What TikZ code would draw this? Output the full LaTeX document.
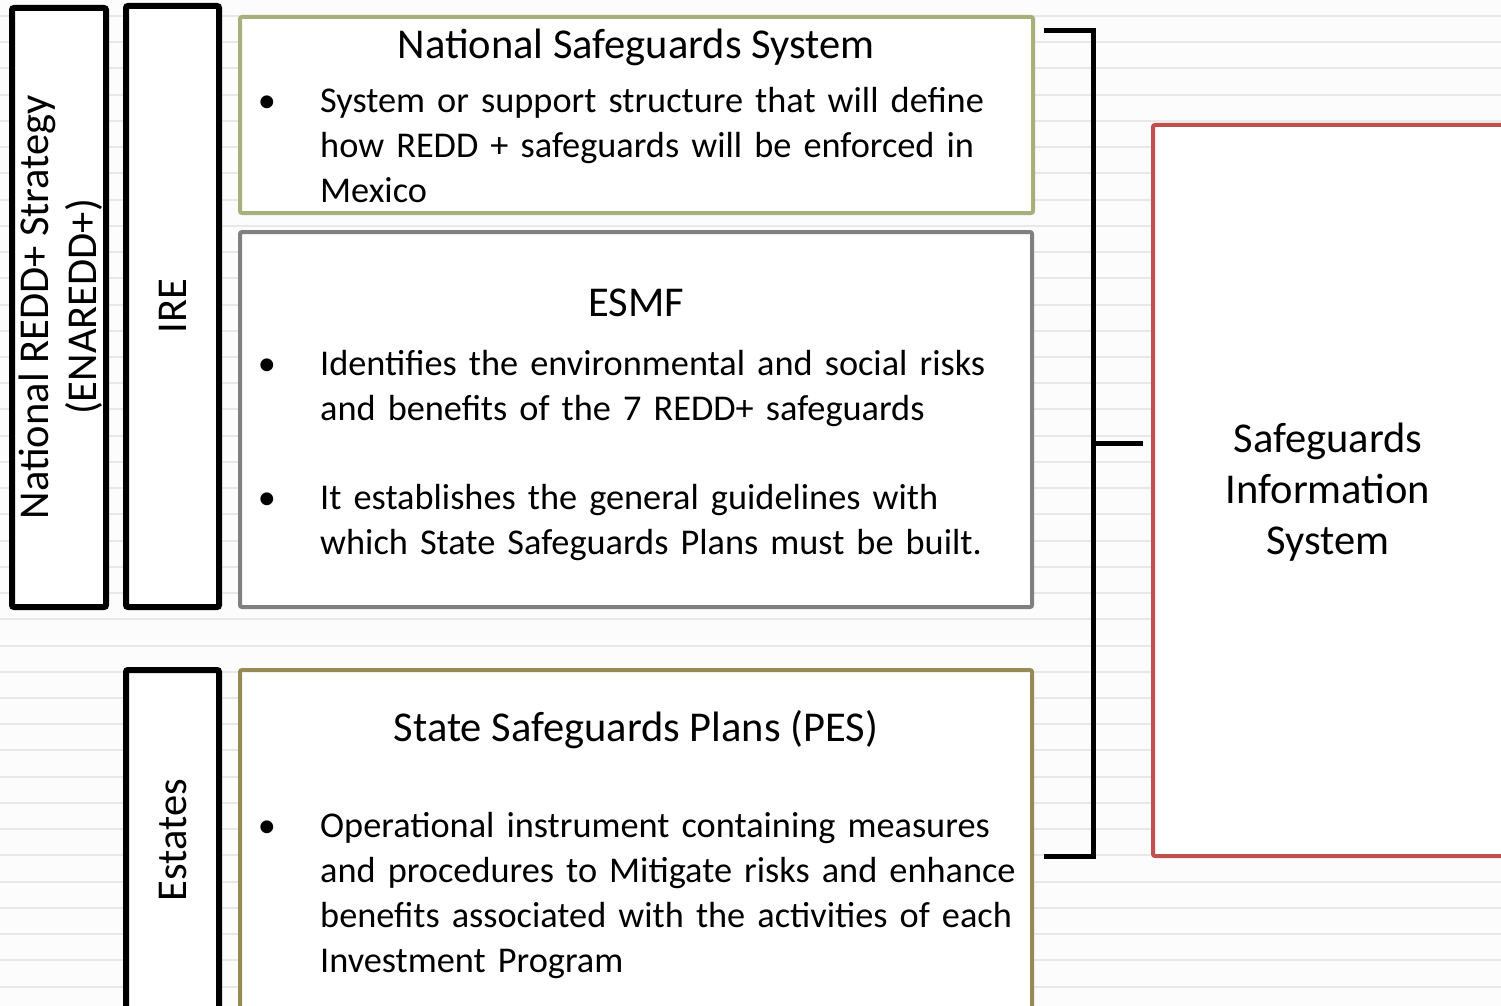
\documentclass[tikz,border=0pt]{standalone}
\usepackage{fontspec}
\setmainfont{Carlito}
\usetikzlibrary{positioning}

\definecolor{nssgreen}{RGB}{166,176,122}
\definecolor{esmfgray}{RGB}{128,128,128}
\definecolor{pestan}{RGB}{148,138,84}
\definecolor{sisred}{RGB}{192,80,77}
\definecolor{paper}{RGB}{252,252,252}
\definecolor{ruling}{RGB}{232,232,232}

\tikzset{
  sidebox/.style={draw=black, line width=6, rounded corners=2, fill=white, inner sep=0},
  panel/.style={line width=4, rounded corners=2, fill=white, inner sep=0},
  body/.style={font=\fontsize{36.3}{45}\selectfont, inner sep=0, align=left, text width=760},
  dot/.style={font=\fontsize{36.3}{45}\selectfont, inner sep=0, anchor=base},
  heading/.style={font=\fontsize{42.5}{51}\selectfont, inner sep=0, anchor=base},
  sidelabel/.style={font=\fontsize{42.5}{48}\selectfont, inner sep=0, rotate=90, align=center},
}

\begin{document}
\begin{tikzpicture}[x=1pt,y=-1pt]
\clip (0,0) rectangle (1501,1006);
\fill[paper] (0,0) rectangle (1501,1006);
\foreach \k in {0,...,37}
  \draw[ruling, line width=2] (0,16+26.23*\k) -- (1501,16+26.23*\k);

% left column
\node[sidebox, minimum width=94, minimum height=599] (strat) at (59,307.5) {};
\node[sidelabel] (strattext) at (61,307) {National REDD+ Strategy\\(ENAREDD+)};
\node[sidebox, minimum width=93, minimum height=601] (ire) at (172.5,306.5) {};
\node[sidelabel] (iretext) at (173,306) {IRE};
\node[sidebox, minimum width=93, minimum height=360] (estates) at (172.5,850) {};
\node[sidelabel] (estatestext) at (173,840) {Estates};

% national safeguards system
\node[panel, draw=nssgreen, minimum width=793, minimum height=196] (nss) at (636.5,115) {};
\node[heading] (nsstitle) at (636,59) {National Safeguards System};
\node[dot] (nssdot) at (267,113) {•};
\node[body, anchor=base west] (nsstext) at (320,113) {System or support structure that will define\\how REDD + safeguards will be enforced in\\Mexico};

% esmf
\node[panel, draw=esmfgray, minimum width=792, minimum height=375] (esmf) at (636,419.5) {};
\node[heading] (esmftitle) at (636,316) {ESMF};
\node[dot] (esmfdota) at (267,375) {•};
\node[body, anchor=base west] (esmftexta) at (320,375) {Identifies the environmental and social risks\\and benefits of the 7 REDD+ safeguards};
\node[dot] (esmfdotb) at (267,509) {•};
\node[body, anchor=base west] (esmftextb) at (320,509) {It establishes the general guidelines with\\which State Safeguards Plans must be built.};

% state plans
\node[panel, draw=pestan, minimum width=792, minimum height=360] (pes) at (636,850) {};
\node[heading] (pestitle) at (636,741) {State Safeguards Plans (PES)};
\node[dot] (pesdot) at (267,837) {•};
\node[body, anchor=base west] (pestext) at (320,837) {Operational instrument containing measures\\and procedures to Mitigate risks and enhance\\benefits associated with the activities of each\\Investment Program};

% information system
\node[panel, draw=sisred, minimum width=377, minimum height=731] (sis) at (1341.5,490.5) {};
\node[font=\fontsize{42.5}{51}\selectfont, align=center, inner sep=0] (sistext) at (1328,492) {Safeguards\\Information\\System};

% bracket
\coordinate (brtop) at (1044,31);
\coordinate (brbot) at (1044,856);
\coordinate (brmid) at (1093,443);
\draw[black!25, line width=5, xshift=2pt, yshift=-3pt] (brtop) -- (brtop -| brmid) -- (brbot -| brmid) -- (brbot);
\draw[black!25, line width=5, xshift=2pt, yshift=-3pt, shorten >=8] (brmid) -- (brmid -| sis.west);
\draw[line width=5] (brtop) -- (brtop -| brmid) -- (brbot -| brmid) -- (brbot);
\draw[line width=5, shorten >=8] (brmid) -- (brmid -| sis.west);
\end{tikzpicture}
\end{document}
